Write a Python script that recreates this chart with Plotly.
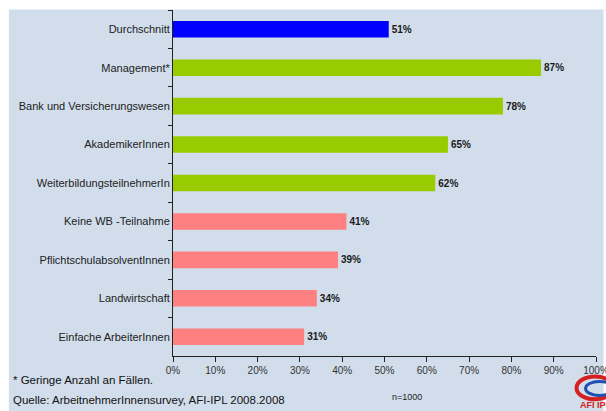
import plotly.graph_objects as go

categories = ["Durchschnitt", "Management*", "Bank und Versicherungswesen", "AkademikerInnen",
              "WeiterbildungsteilnehmerIn", "Keine WB -Teilnahme", "PflichtschulabsolventInnen",
              "Landwirtschaft", "Einfache ArbeiterInnen"]
values = [0.51, 0.87, 0.78, 0.65, 0.62, 0.41, 0.39, 0.34, 0.31]
colors = ["#0000FF", "#99CC00", "#99CC00", "#99CC00", "#99CC00",
          "#FF8080", "#FF8080", "#FF8080", "#FF8080"]
labels = [f"{round(v*100)}%" for v in values]
x_ticks = [i / 10 for i in range(11)]
x_ticklabels = [f"{i*10}%" for i in range(11)]

# Body margin is removed below, so figure pixels == page pixels.
W, H = 606, 411
L, T = 172.5, 9.5
R = W - 596.5
B = H - 356.5
pw, ph = W - L - R, H - T - B

def px(x):  # page pixel x -> paper
    return (x - L) / pw

def py(y):  # page pixel y -> paper
    return (H - B - y) / ph

fig = go.Figure(go.Bar(
    x=values, y=categories, orientation="h",
    marker=dict(color=colors, line=dict(width=0)),
    width=0.43,
    text=labels, textposition="outside",
    textfont=dict(family="Liberation Sans", size=10, color="#1a1a1a"),
    texttemplate="<b>%{text}</b>",
    cliponaxis=False,
))

fig.update_layout(
    width=W, height=H,
    margin=dict(l=L, r=R, t=T, b=B),
    paper_bgcolor="white",
    plot_bgcolor="rgba(0,0,0,0)",
    showlegend=False,
    font=dict(family="Liberation Sans", size=11, color="#222"),
    xaxis=dict(range=[0, 1], tickvals=x_ticks, ticktext=x_ticklabels, automargin=False,
               ticklabeloverflow="allow",
               showgrid=False, zeroline=False, showline=True, linecolor="#222", linewidth=1,
               ticks="outside", ticklen=5, tickcolor="#222",
               tickfont=dict(size=10, color="#333"), fixedrange=True),
    yaxis=dict(autorange="reversed", showgrid=False, zeroline=False, automargin=False,
               showline=True, linecolor="#222", linewidth=1,
               ticks="outside", ticklen=4, tickcolor="#222", tickson="boundaries",
               tickfont=dict(size=11, color="#222"), fixedrange=True),
    shapes=[
        dict(type="rect", xref="paper", yref="paper", layer="below",
             x0=px(8), x1=px(604), y0=py(9), y1=py(440),
             fillcolor="#D1DDEB", line=dict(width=0)),
        dict(type="circle", xref="paper", yref="paper",
             x0=px(577), x1=px(614), y0=py(377), y1=py(400),
             line=dict(color="#D62020", width=4)),
        dict(type="circle", xref="paper", yref="paper",
             x0=px(586), x1=px(614), y0=py(382), y1=py(396),
             line=dict(color="#1F4FB0", width=3)),
    ],
    annotations=[
        dict(text="* Geringe Anzahl an Fällen.", xref="paper", yref="paper",
             x=px(10), y=py(381), xanchor="left", yanchor="middle", showarrow=False,
             font=dict(size=11.5, color="#111")),
        dict(text="Quelle: ArbeitnehmerInnensurvey, AFI-IPL 2008.2008", xref="paper", yref="paper",
             x=px(10), y=py(401), xanchor="left", yanchor="middle", showarrow=False,
             font=dict(size=11.5, color="#111")),
        dict(text="n=1000", xref="paper", yref="paper",
             x=px(407), y=py(398), xanchor="center", yanchor="middle", showarrow=False,
             font=dict(size=9, color="#222")),
        dict(text="<b>AFI IPL</b>", xref="paper", yref="paper",
             x=px(578), y=py(406), xanchor="left", yanchor="middle", showarrow=False,
             font=dict(size=9, color="#D62020")),
    ],
)

fig.write_html("out.html", config={"displayModeBar": False},
               post_script="document.body.style.margin='0';document.body.style.overflow='hidden';")
